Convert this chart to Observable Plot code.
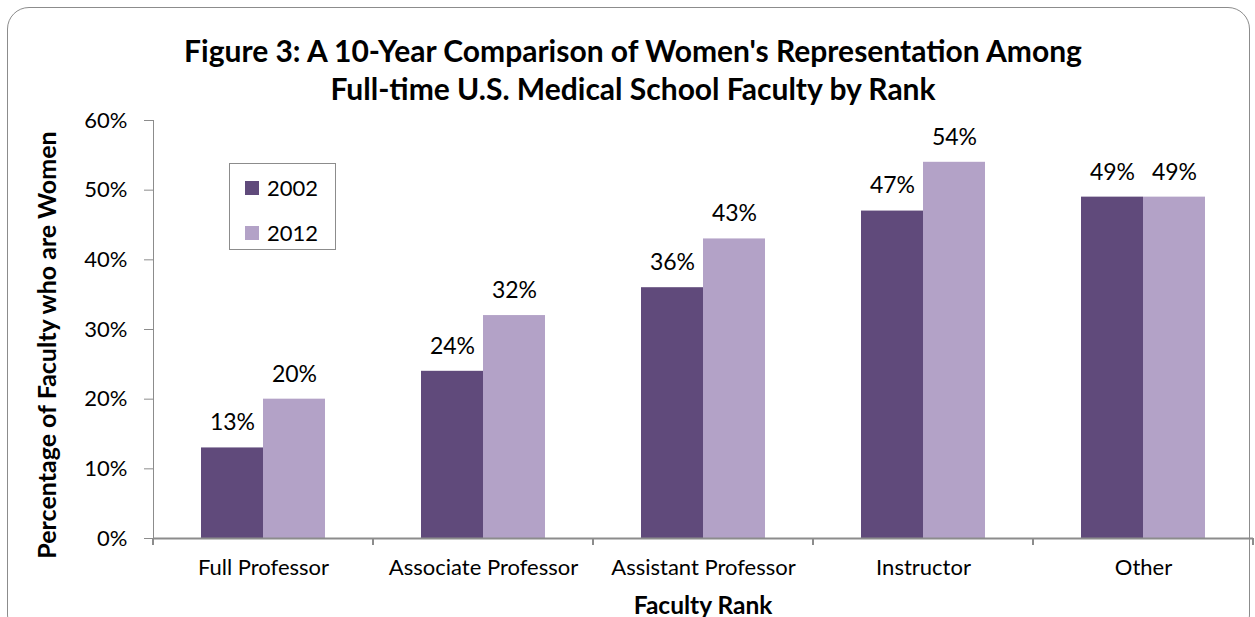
<!DOCTYPE html>
<html>
<head>
<meta charset="utf-8">
<script src="https://cdn.jsdelivr.net/npm/d3@7"></script>
<script src="https://cdn.jsdelivr.net/npm/@observablehq/plot@0.6"></script>
<style>
  html, body { margin: 0; padding: 0; background: #fff; }
  #wrap { position: relative; width: 1255px; height: 617px; overflow: hidden; font-family: Lato, "Open Sans", sans-serif; }
  #border { position: absolute; left: 7px; top: 7px; width: 1243px; height: 630px; border: 1.5px solid #8c8c8c; border-radius: 22px; box-sizing: border-box; }
  #title { position: absolute; left: 0; top: 31px; width: 1266px; text-align: center; font-weight: bold; font-size: 30px; line-height: 38px; color: #000; }
  #chart { position: absolute; left: 0; top: 0; }
  #chart svg text { fill: #000; }
  #ylabel { position: absolute; left: 46px; top: 345px; transform: translate(-50%, -50%) rotate(-90deg); white-space: nowrap; font-weight: bold; font-size: 25px; }
  #xlabel { position: absolute; left: 703px; top: 604px; transform: translate(-50%, -50%); white-space: nowrap; font-weight: bold; font-size: 24.5px; }
  #legend { position: absolute; left: 229px; top: 163px; width: 107px; height: 87px; border: 1.5px solid #8c8c8c; box-sizing: border-box; background: #fff; }
  .item { position: absolute; left: 15px; display: flex; align-items: center; font-size: 22px; line-height: 22px; }
  .sw { width: 14px; height: 14px; margin-right: 8px; }
</style>
</head>
<body>
<div id="wrap">
  <div id="border"></div>
  <div id="title">Figure 3: A 10-Year Comparison of Women's Representation Among<br>Full-time U.S. Medical School Faculty by Rank</div>
  <div id="chart"></div>
  <div id="ylabel">Percentage of Faculty who are Women</div>
  <div id="xlabel">Faculty Rank</div>
  <div id="legend"></div>
</div>
<script>
const categories = ["Full Professor", "Associate Professor", "Assistant Professor", "Instructor", "Other"];
const years = ["2002", "2012"];
const values2002 = [0.13, 0.24, 0.36, 0.47, 0.49];
const values2012 = [0.20, 0.32, 0.43, 0.54, 0.49];
const colors = ["#604A7B", "#B3A2C7"];
const yTicks = [0, 0.1, 0.2, 0.3, 0.4, 0.5, 0.6];

const data = [];
categories.forEach((c, i) => {
  data.push({category: c, year: years[0], value: values2002[i]});
  data.push({category: c, year: years[1], value: values2012[i]});
});

// boundary tick marks of the category axis (drawn at each facet's edges)
function boundaryTicks(index, scales, values, dimensions) {
  const g = d3.create("svg:g");
  const y0 = scales.y(0);
  const left = dimensions.marginLeft;
  const right = dimensions.width - dimensions.marginRight;
  for (const x of [left, right]) {
    g.append("line").attr("x1", x).attr("x2", x).attr("y1", y0).attr("y2", y0 + 7)
      .attr("stroke", "#8c8c8c").attr("stroke-width", 2);
  }
  return g.node();
}

const chart = Plot.plot({
  width: 1255,
  height: 617,
  marginTop: 120,
  marginBottom: 79,
  marginLeft: 151,
  marginRight: 0,
  style: { fontFamily: "Lato, 'Open Sans', sans-serif", fontSize: "22px", color: "#8c8c8c", background: "transparent" },
  fx: { domain: categories, padding: 0, label: null, axis: "bottom", tickSize: 0, tickPadding: 21 },
  x: { domain: years, paddingInner: 0, paddingOuter: 0.754, axis: null },
  y: { domain: [0, 0.6], ticks: yTicks, tickFormat: d3.format(".0%"), label: null, tickSize: 9, tickPadding: 17, line: true },
  color: { domain: years, range: colors },
  marks: [
    Plot.barY(data, { fx: "category", x: "year", y: "value", fill: "year" }),
    Plot.ruleY([0], { stroke: "#8c8c8c", strokeWidth: 2 }),
    boundaryTicks,
    Plot.text(data, { fx: "category", x: "year", y: "value", text: d => d3.format(".0%")(d.value), dy: -25, fontSize: 23 })
  ]
});
document.getElementById("chart").appendChild(chart);

const legend = document.getElementById("legend");
years.forEach((yr, i) => {
  const item = document.createElement("div");
  item.className = "item";
  item.style.top = (i === 0 ? 13 : 58) + "px";
  const sw = document.createElement("div");
  sw.className = "sw";
  sw.style.background = colors[i];
  item.appendChild(sw);
  item.appendChild(document.createTextNode(yr));
  legend.appendChild(item);
});
</script>
</body>
</html>
